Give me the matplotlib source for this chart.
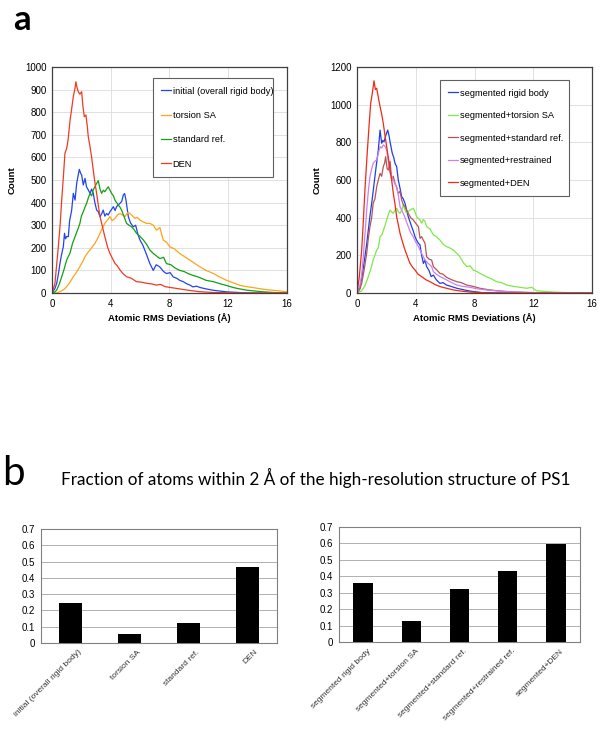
# RMS deviation histograms (panel a) and fraction-within-2A bars (panel b)
import numpy as np
import matplotlib
matplotlib.use('Agg')
import matplotlib.pyplot as plt

plt.rcParams['font.family'] = ['Liberation Sans', 'DejaVu Sans']

# ---- panel a, left: counts vs atomic RMS deviation
init_x = [0, 0.2, 0.32, 0.45, 0.54, 0.65, 0.77, 0.85, 0.92, 1.0, 1.11, 1.2, 1.34, 1.45, 1.57, 1.68, 1.78, 1.86, 1.95, 2.02,
          2.13, 2.25, 2.35, 2.47, 2.59, 2.7, 2.81, 2.92, 3.04, 3.15, 3.27, 3.38, 3.49, 3.6, 3.72, 3.83, 3.95, 4.06, 4.18, 4.3,
          4.4, 4.52, 4.63, 4.75, 4.86, 4.95, 5.04, 5.2, 5.35, 5.54, 5.7, 5.85, 5.99, 6.2, 6.44, 6.67, 6.9, 7.1, 7.35, 7.6,
          7.8, 8.05, 8.26, 8.5, 8.7, 8.95, 9.17, 9.4, 9.6, 9.85, 10.1, 10.5, 11.0, 11.5, 11.9, 12.5, 13, 14, 15, 16]
init_y = [0, 20, 43, 90, 131, 170, 205, 264, 240, 250, 249, 320, 367, 441, 411, 485, 520, 547, 530, 522,
          478, 507, 470, 456, 441, 460, 441, 400, 367, 360, 338, 350, 367, 340, 352, 345, 360, 370, 382, 365,
          382, 390, 397, 405, 434, 440, 411, 338, 310, 293, 300, 260, 235, 210, 170, 130, 100, 125, 115, 95,
          86, 90, 71, 65, 56, 50, 41, 35, 27, 30, 24, 18, 12, 8, 5, 3, 1, 0, 0, 0]

tsa_x = [0, 0.3, 0.54, 0.8, 1.0, 1.2, 1.45, 1.7, 1.9, 2.1, 2.25, 2.45, 2.59, 2.75, 2.93, 3.1, 3.27, 3.45, 3.6, 3.8,
         3.95, 4.1, 4.29, 4.45, 4.63, 4.8, 4.97, 5.15, 5.31, 5.5, 5.65, 5.8, 5.99, 6.2, 6.44, 6.67, 6.9, 7.12, 7.35, 7.58,
         7.8, 8.03, 8.35, 8.7, 9.05, 9.4, 9.75, 10.1, 10.5, 11.0, 11.45, 11.9, 12.35, 12.8, 13.25, 13.7, 14.15, 14.6, 15.05, 15.5, 16]
tsa_y = [0, 0, 6, 15, 28, 45, 72, 95, 117, 140, 161, 180, 190, 205, 220, 240, 264, 290, 308, 325,
         338, 320, 330, 345, 352, 345, 338, 355, 352, 340, 330, 335, 323, 315, 308, 308, 300, 278, 290, 234,
         225, 204, 195, 175, 160, 145, 130, 115, 100, 86, 70, 56, 45, 34, 28, 24, 19, 15, 12, 9, 5]

std_x = [0, 0.2, 0.32, 0.5, 0.66, 0.8, 1.0, 1.1, 1.22, 1.4, 1.57, 1.75, 1.9, 2.0, 2.13, 2.25, 2.36, 2.47, 2.59, 2.7,
         2.81, 2.92, 3.04, 3.15, 3.27, 3.38, 3.5, 3.6, 3.72, 3.83, 3.95, 4.06, 4.18, 4.29, 4.4, 4.52, 4.63, 4.74, 4.9, 5.08,
         5.25, 5.42, 5.6, 5.76, 6.0, 6.22, 6.45, 6.67, 6.9, 7.1, 7.35, 7.6, 7.8, 8.1, 8.4, 8.7, 9.0, 9.3, 9.6, 10.0,
         10.5, 11.0, 11.45, 11.9, 12.36, 12.8, 13.3, 13.8, 14.2, 14.7, 15.1, 15.5, 16]
std_y = [0, 5, 13, 40, 72, 100, 146, 160, 175, 220, 249, 280, 308, 340, 360, 380, 397, 420, 441, 430,
         456, 470, 485, 497, 460, 441, 455, 448, 460, 470, 455, 441, 430, 411, 400, 389, 380, 367, 340, 308,
         300, 293, 280, 264, 250, 235, 215, 190, 175, 165, 152, 158, 130, 125, 110, 100, 95, 85, 78, 70,
         56, 50, 41, 33, 24, 18, 12, 9, 6, 4, 2, 1, 0]

den_x = [0, 0.2, 0.43, 0.55, 0.66, 0.78, 0.88, 1.0, 1.1, 1.23, 1.35, 1.45, 1.55, 1.63, 1.7, 1.79, 1.9, 2.02, 2.1, 2.2,
         2.31, 2.4, 2.47, 2.59, 2.7, 2.81, 2.92, 3.04, 3.15, 3.27, 3.45, 3.6, 3.8, 3.95, 4.1, 4.29, 4.45, 4.63, 4.85, 5.08,
         5.4, 5.76, 6.1, 6.44, 6.8, 7.1, 7.4, 7.7, 8.0, 8.5, 9.0, 9.5, 10.0, 10.5, 11.0, 12.0, 13, 16]
den_y = [0, 43, 205, 300, 411, 520, 618, 640, 680, 765, 820, 869, 900, 935, 910, 891, 880, 891, 830, 780,
         788, 740, 692, 648, 600, 544, 490, 441, 390, 338, 290, 249, 200, 175, 155, 131, 120, 102, 85, 72,
         65, 50, 48, 43, 40, 35, 38, 28, 25, 20, 15, 10, 6, 4, 2, 1, 0, 0]

# ---- panel a, right: segmented runs
seg_x = [0, 0.2, 0.35, 0.54, 0.66, 0.77, 0.9, 1.0, 1.1, 1.22, 1.35, 1.45, 1.57, 1.68, 1.76, 1.84, 1.97, 2.09, 2.17, 2.25,
         2.4, 2.5, 2.59, 2.7, 2.81, 2.92, 3.04, 3.15, 3.27, 3.38, 3.49, 3.6, 3.72, 3.83, 3.95, 4.06, 4.18, 4.29, 4.4, 4.52,
         4.63, 4.74, 4.9, 5.05, 5.2, 5.4, 5.65, 5.85, 6.1, 6.4, 6.8, 7.2, 7.7, 8.1, 8.5, 9, 10, 16]
seg_y = [0, 30, 90, 193, 260, 334, 420, 476, 540, 618, 700, 759, 865, 795, 810, 803, 839, 865, 840, 803,
         742, 720, 688, 671, 600, 560, 512, 500, 476, 440, 405, 380, 352, 330, 299, 280, 264, 255, 200, 157,
         175, 140, 120, 87, 95, 70, 51, 55, 42, 35, 25, 18, 10, 6, 2, 1, 0, 0]

segtsa_x = [0, 0.3, 0.55, 0.77, 0.95, 1.1, 1.22, 1.34, 1.45, 1.57, 1.7, 1.8, 1.92, 2.02, 2.15, 2.25, 2.36, 2.47, 2.6, 2.7,
            2.82, 2.93, 3.04, 3.15, 3.27, 3.38, 3.6, 3.83, 3.95, 4.06, 4.18, 4.29, 4.4, 4.52, 4.63, 4.74, 4.97, 5.2, 5.4, 5.65,
            5.85, 6.1, 6.3, 6.56, 6.8, 7.0, 7.25, 7.47, 7.7, 7.9, 8.15, 8.37, 8.6, 8.8, 9.15, 9.5, 9.85, 10.2, 10.65, 11.1,
            11.55, 11.9, 12.2, 12.8, 13.4, 14.0, 14.5, 15.2, 16]
segtsa_y = [0, 10, 40, 87, 130, 175, 200, 228, 240, 299, 310, 334, 360, 388, 420, 440, 430, 423, 440, 450,
            430, 423, 440, 467, 440, 423, 440, 450, 430, 405, 395, 388, 370, 390, 380, 352, 340, 308, 300, 281,
            260, 246, 240, 228, 210, 193, 160, 140, 145, 122, 115, 104, 95, 87, 75, 60, 55, 42, 35, 30,
            25, 30, 12, 8, 5, 3, 2, 1, 0]

segstd_x = [0, 0.2, 0.32, 0.5, 0.66, 0.77, 0.88, 1.0, 1.1, 1.22, 1.34, 1.45, 1.57, 1.68, 1.79, 1.88, 1.95, 2.05, 2.13, 2.25,
            2.36, 2.47, 2.59, 2.7, 2.81, 2.93, 3.04, 3.15, 3.27, 3.38, 3.49, 3.65, 3.83, 4.0, 4.18, 4.29, 4.4, 4.52, 4.63, 4.74,
            4.9, 5.08, 5.2, 5.4, 5.65, 5.85, 6.1, 6.45, 6.8, 7.1, 7.47, 7.9, 8.37, 8.9, 9.5, 10.5, 12, 13, 16]
segstd_y = [0, 20, 51, 130, 210, 290, 352, 400, 476, 500, 564, 600, 635, 620, 671, 690, 724, 660, 653, 700,
            600, 620, 582, 560, 529, 540, 494, 470, 458, 440, 423, 400, 388, 370, 352, 290, 299, 280, 264, 193,
            180, 175, 140, 125, 104, 100, 83, 70, 60, 55, 42, 35, 25, 18, 12, 6, 2, 1, 0]

segres_x = [0, 0.2, 0.32, 0.43, 0.55, 0.66, 0.77, 0.88, 1.0, 1.1, 1.22, 1.34, 1.45, 1.57, 1.68, 1.79, 1.9, 2.02, 2.13, 2.25,
            2.36, 2.47, 2.59, 2.7, 2.81, 2.93, 3.04, 3.15, 3.27, 3.49, 3.65, 3.83, 4.0, 4.18, 4.4, 4.63, 4.85, 5.08, 5.2, 5.4,
            5.65, 5.85, 6.1, 6.45, 6.8, 7.2, 7.7, 8.2, 8.8, 9.4, 10, 11, 12, 13, 16]
segres_y = [0, 40, 100, 193, 320, 440, 540, 618, 660, 688, 700, 706, 740, 777, 770, 786, 780, 759, 700, 635,
            620, 600, 580, 564, 520, 458, 440, 423, 400, 352, 320, 299, 270, 246, 210, 175, 157, 140, 113, 100,
            87, 80, 69, 55, 42, 35, 30, 22, 16, 12, 8, 4, 2, 1, 0]

segden_x = [0, 0.15, 0.32, 0.43, 0.54, 0.66, 0.77, 0.85, 0.93, 1.04, 1.16, 1.25, 1.34, 1.45, 1.57, 1.68, 1.79, 1.9, 2.02, 2.13,
            2.25, 2.36, 2.47, 2.59, 2.7, 2.82, 2.93, 3.1, 3.27, 3.45, 3.6, 3.8, 3.95, 4.15, 4.4, 4.7, 4.97, 5.3, 5.65, 6.1,
            6.56, 7.1, 7.7, 8.5, 9.5, 16]
segden_y = [0, 80, 228, 380, 547, 700, 830, 920, 1007, 1060, 1127, 1080, 1087, 1040, 990, 950, 900, 840, 777, 720,
            653, 600, 529, 470, 405, 360, 317, 270, 228, 190, 158, 135, 122, 100, 87, 70, 60, 45, 34, 25,
            16, 10, 5, 2, 0, 0]

# ---- panel b: fraction of atoms within 2 A
bar_left_lab = ['initial (overall rigid body)', 'torsion SA', 'standard ref.', 'DEN']
bar_left_val = [0.245, 0.053, 0.125, 0.465]
bar_right_lab = ['segmented rigid body', 'segmented+torsion SA', 'segmented+standard ref.',
                 'segmented+restrained ref.', 'segmented+DEN']
bar_right_val = [0.36, 0.128, 0.325, 0.432, 0.598]

left_series = [(init_x, init_y, 'initial (overall rigid body)', '#2244ee'),
               (tsa_x, tsa_y, 'torsion SA', '#ffa31a'),
               (std_x, std_y, 'standard ref.', '#13a013'),
               (den_x, den_y, 'DEN', '#f03a22')]
right_series = [(seg_x, seg_y, 'segmented rigid body', '#1f3fe6'),
                (segtsa_x, segtsa_y, 'segmented+torsion SA', '#7fe84a'),
                (segstd_x, segstd_y, 'segmented+standard ref.', '#b25555'),
                (segres_x, segres_y, 'segmented+restrained', '#cc80f0'),
                (segden_x, segden_y, 'segmented+DEN', '#f02a14')]

fig = plt.figure(figsize=(6, 7.31), dpi=100)

def hist_panel(rect, series, ymax, ystep, legbox, lspace):
	ax = fig.add_axes(rect)
	for xs, ys, lab, col in series:
		ax.plot(xs, ys, color=col, lw=0.9, label=lab)
	ax.set_xlim(0, 16)
	ax.set_ylim(0, ymax)
	ax.set_xticks([0, 4, 8, 12, 16])
	ax.set_yticks(np.arange(0, ymax + 1, ystep))
	ax.grid(True, color='#dcdcdc', lw=0.6)
	ax.set_axisbelow(True)
	ax.tick_params(length=0, labelsize=7, pad=4)
	for s in ax.spines.values():
		s.set_color('#404040')
		s.set_linewidth(0.9)
	ax.set_xlabel('Atomic RMS Deviations (Å)', fontsize=6.8, fontweight='bold', labelpad=3)
	ax.set_ylabel('Count', fontsize=6.8, fontweight='bold', labelpad=6)
	leg = ax.legend(loc='upper left', bbox_to_anchor=legbox, mode='expand', fontsize=6.7,
					handlelength=1.1, handletextpad=0.15, labelspacing=lspace, borderpad=0.9,
					fancybox=False, framealpha=1, edgecolor='#606060')
	leg.get_frame().set_linewidth(0.8)
	return ax

hist_panel([0.0867, 0.5992, 0.3913, 0.3091], left_series, 1000, 100, (0.409, 0.531, 0.553, 0.44), 1.65)
hist_panel([0.595, 0.5992, 0.3917, 0.3091], right_series, 1200, 200, (0.332, 0.465, 0.591, 0.497), 1.45)

def bar_panel(rect, labs, vals, lab_off):
	ax = fig.add_axes(rect)
	pos = np.arange(len(labs))
	ax.bar(pos, vals, width=0.4, color='black', zorder=3)
	ax.set_xlim(-0.5, len(labs) - 0.5)
	ax.set_ylim(0, 0.7)
	ax.set_yticks(np.arange(0, 0.71, 0.1))
	ax.set_yticklabels(['0'] + ['%.1f' % v for v in np.arange(0.1, 0.71, 0.1)])
	ax.yaxis.grid(True, color='#b0b0b0', lw=0.7)
	ax.tick_params(axis='y', length=0, labelsize=7, pad=4)
	ax.tick_params(axis='x', length=0, pad=4)
	# hidden ticks, so the rotated labels can sit a little right of the bar centre
	ax.set_xticks(pos + lab_off)
	ax.set_xticklabels(labs, rotation=45, ha='right', rotation_mode='anchor', fontsize=6.0, color='#333333')
	for s in ax.spines.values():
		s.set_color('#808080')
		s.set_linewidth(0.8)
	return ax

bar_panel([0.0683, 0.1204, 0.3934, 0.1559], bar_left_lab, bar_left_val, 0.12)
bar_panel([0.565, 0.1218, 0.4017, 0.1573], bar_right_lab, bar_right_val, 0.09)

fig.text(0.022, 0.995, 'a', fontsize=25, fontweight='bold', family=['Lato', 'DejaVu Sans'], va='top')
fig.text(0.003, 0.378, 'b', fontsize=29, family=['Lato', 'DejaVu Sans'], va='top')
fig.text(0.527, 0.346, 'Fraction of atoms within 2 Å of the high-resolution structure of PS1',
		 fontsize=12.3, family=['Lato', 'DejaVu Sans'], ha='center', va='center')

plt.savefig('out.png', dpi=100)
